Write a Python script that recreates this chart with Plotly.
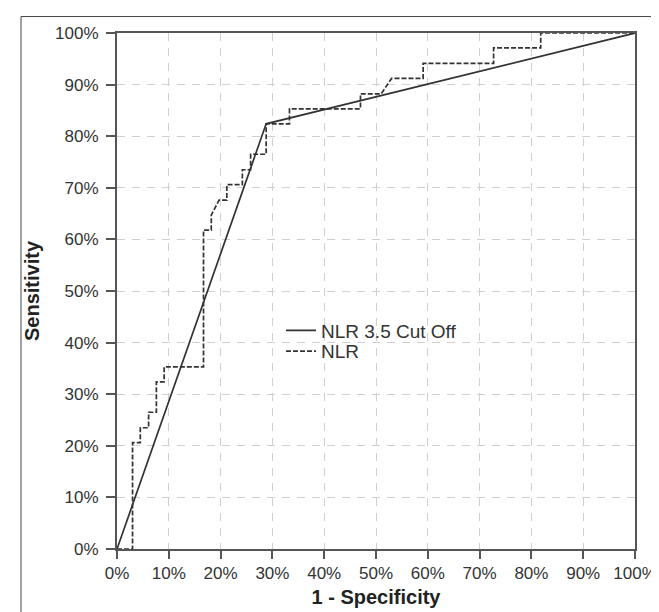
import plotly.graph_objects as go

# Tick values / labels
tick_vals = [0, 0.1, 0.2, 0.3, 0.4, 0.5, 0.6, 0.7, 0.8, 0.9, 1.0]
tick_text = ["0%", "10%", "20%", "30%", "40%", "50%", "60%", "70%", "80%", "90%", "100%"]

# Series 1: NLR 3.5 Cut Off (single cut-point ROC)
cut_fpr = [0.0, 0.288, 1.0]
cut_tpr = [0.0, 0.824, 1.0]

# Series 2: NLR (continuous ROC, step curve)
nlr_fpr = [0.0, 0.030, 0.030, 0.045, 0.045, 0.061, 0.061, 0.076, 0.076, 0.091, 0.091,
           0.167, 0.167, 0.182, 0.182, 0.197, 0.212, 0.212, 0.242, 0.242, 0.258, 0.258,
           0.288, 0.288, 0.333, 0.333, 0.470, 0.470, 0.510, 0.530, 0.591, 0.591,
           0.727, 0.727, 0.818, 0.818, 1.0]
nlr_tpr = [0.0, 0.0, 0.206, 0.206, 0.235, 0.235, 0.265, 0.265, 0.324, 0.324, 0.353,
           0.353, 0.618, 0.618, 0.647, 0.676, 0.676, 0.706, 0.706, 0.735, 0.735, 0.765,
           0.765, 0.824, 0.824, 0.853, 0.853, 0.882, 0.882, 0.912, 0.912, 0.941,
           0.941, 0.971, 0.971, 1.0, 1.0]

W, H = 659, 612
L, R, T, B = 109, 32, 24.5, 70.5
pw, ph = W - L - R, H - T - B

def px_x(p):
    return (p - L) / pw

def px_y(p):
    return (H - B - p) / ph

FONT = "Liberation Sans, Arial, Helvetica, sans-serif"

fig = go.Figure()
fig.add_trace(go.Scatter(x=cut_fpr, y=cut_tpr, mode="lines", name="NLR 3.5 Cut Off",
                         line=dict(color="#333333", width=1.7), legend="legend"))
fig.add_trace(go.Scatter(x=nlr_fpr, y=nlr_tpr, mode="lines", name="NLR",
                         line=dict(color="#333333", width=1.7, dash="5px,2px"), legend="legend2"))

axis_common = dict(
    range=[0, 1], tickvals=tick_vals, ticktext=tick_text,
    showgrid=True, gridcolor="#d0d0d0", gridwidth=1, griddash="8px,7px",
    zeroline=False, showline=True, linecolor="#555555", linewidth=2, mirror=True,
    ticks="outside", tickwidth=2, tickcolor="#555555",
    tickfont=dict(family=FONT, size=17, color="#333333"),
)

legend_common = dict(xanchor="left", yanchor="middle", bgcolor="rgba(0,0,0,0)",
                     borderwidth=0, font=dict(family=FONT, size=19, color="#333333"))

fig.update_layout(
    width=W, height=H,
    margin=dict(l=L, r=R, t=T, b=B, autoexpand=False),
    paper_bgcolor="white", plot_bgcolor="white",
    showlegend=True,
    legend=dict(legend_common, x=px_x(273), y=px_y(322.7)),
    legend2=dict(legend_common, x=px_x(273), y=px_y(343.3)),
    xaxis=dict(axis_common, ticklen=8,
               title=dict(text="<b>1 - Specificity</b>", standoff=8,
                          font=dict(family=FONT, size=20, color="#222222"))),
    yaxis=dict(axis_common, ticklen=9, ticklabelstandoff=4,
               title=dict(text="<b>Sensitivity</b>", standoff=10,
                          font=dict(family=FONT, size=20, color="#222222"))),
    shapes=[dict(type="rect", xref="paper", yref="paper",
                 x0=px_x(13), x1=px_x(649), y0=px_y(625), y1=px_y(8),
                 line=dict(color="#444444", width=1), layer="below")],
)

fig.write_html("out.html")
